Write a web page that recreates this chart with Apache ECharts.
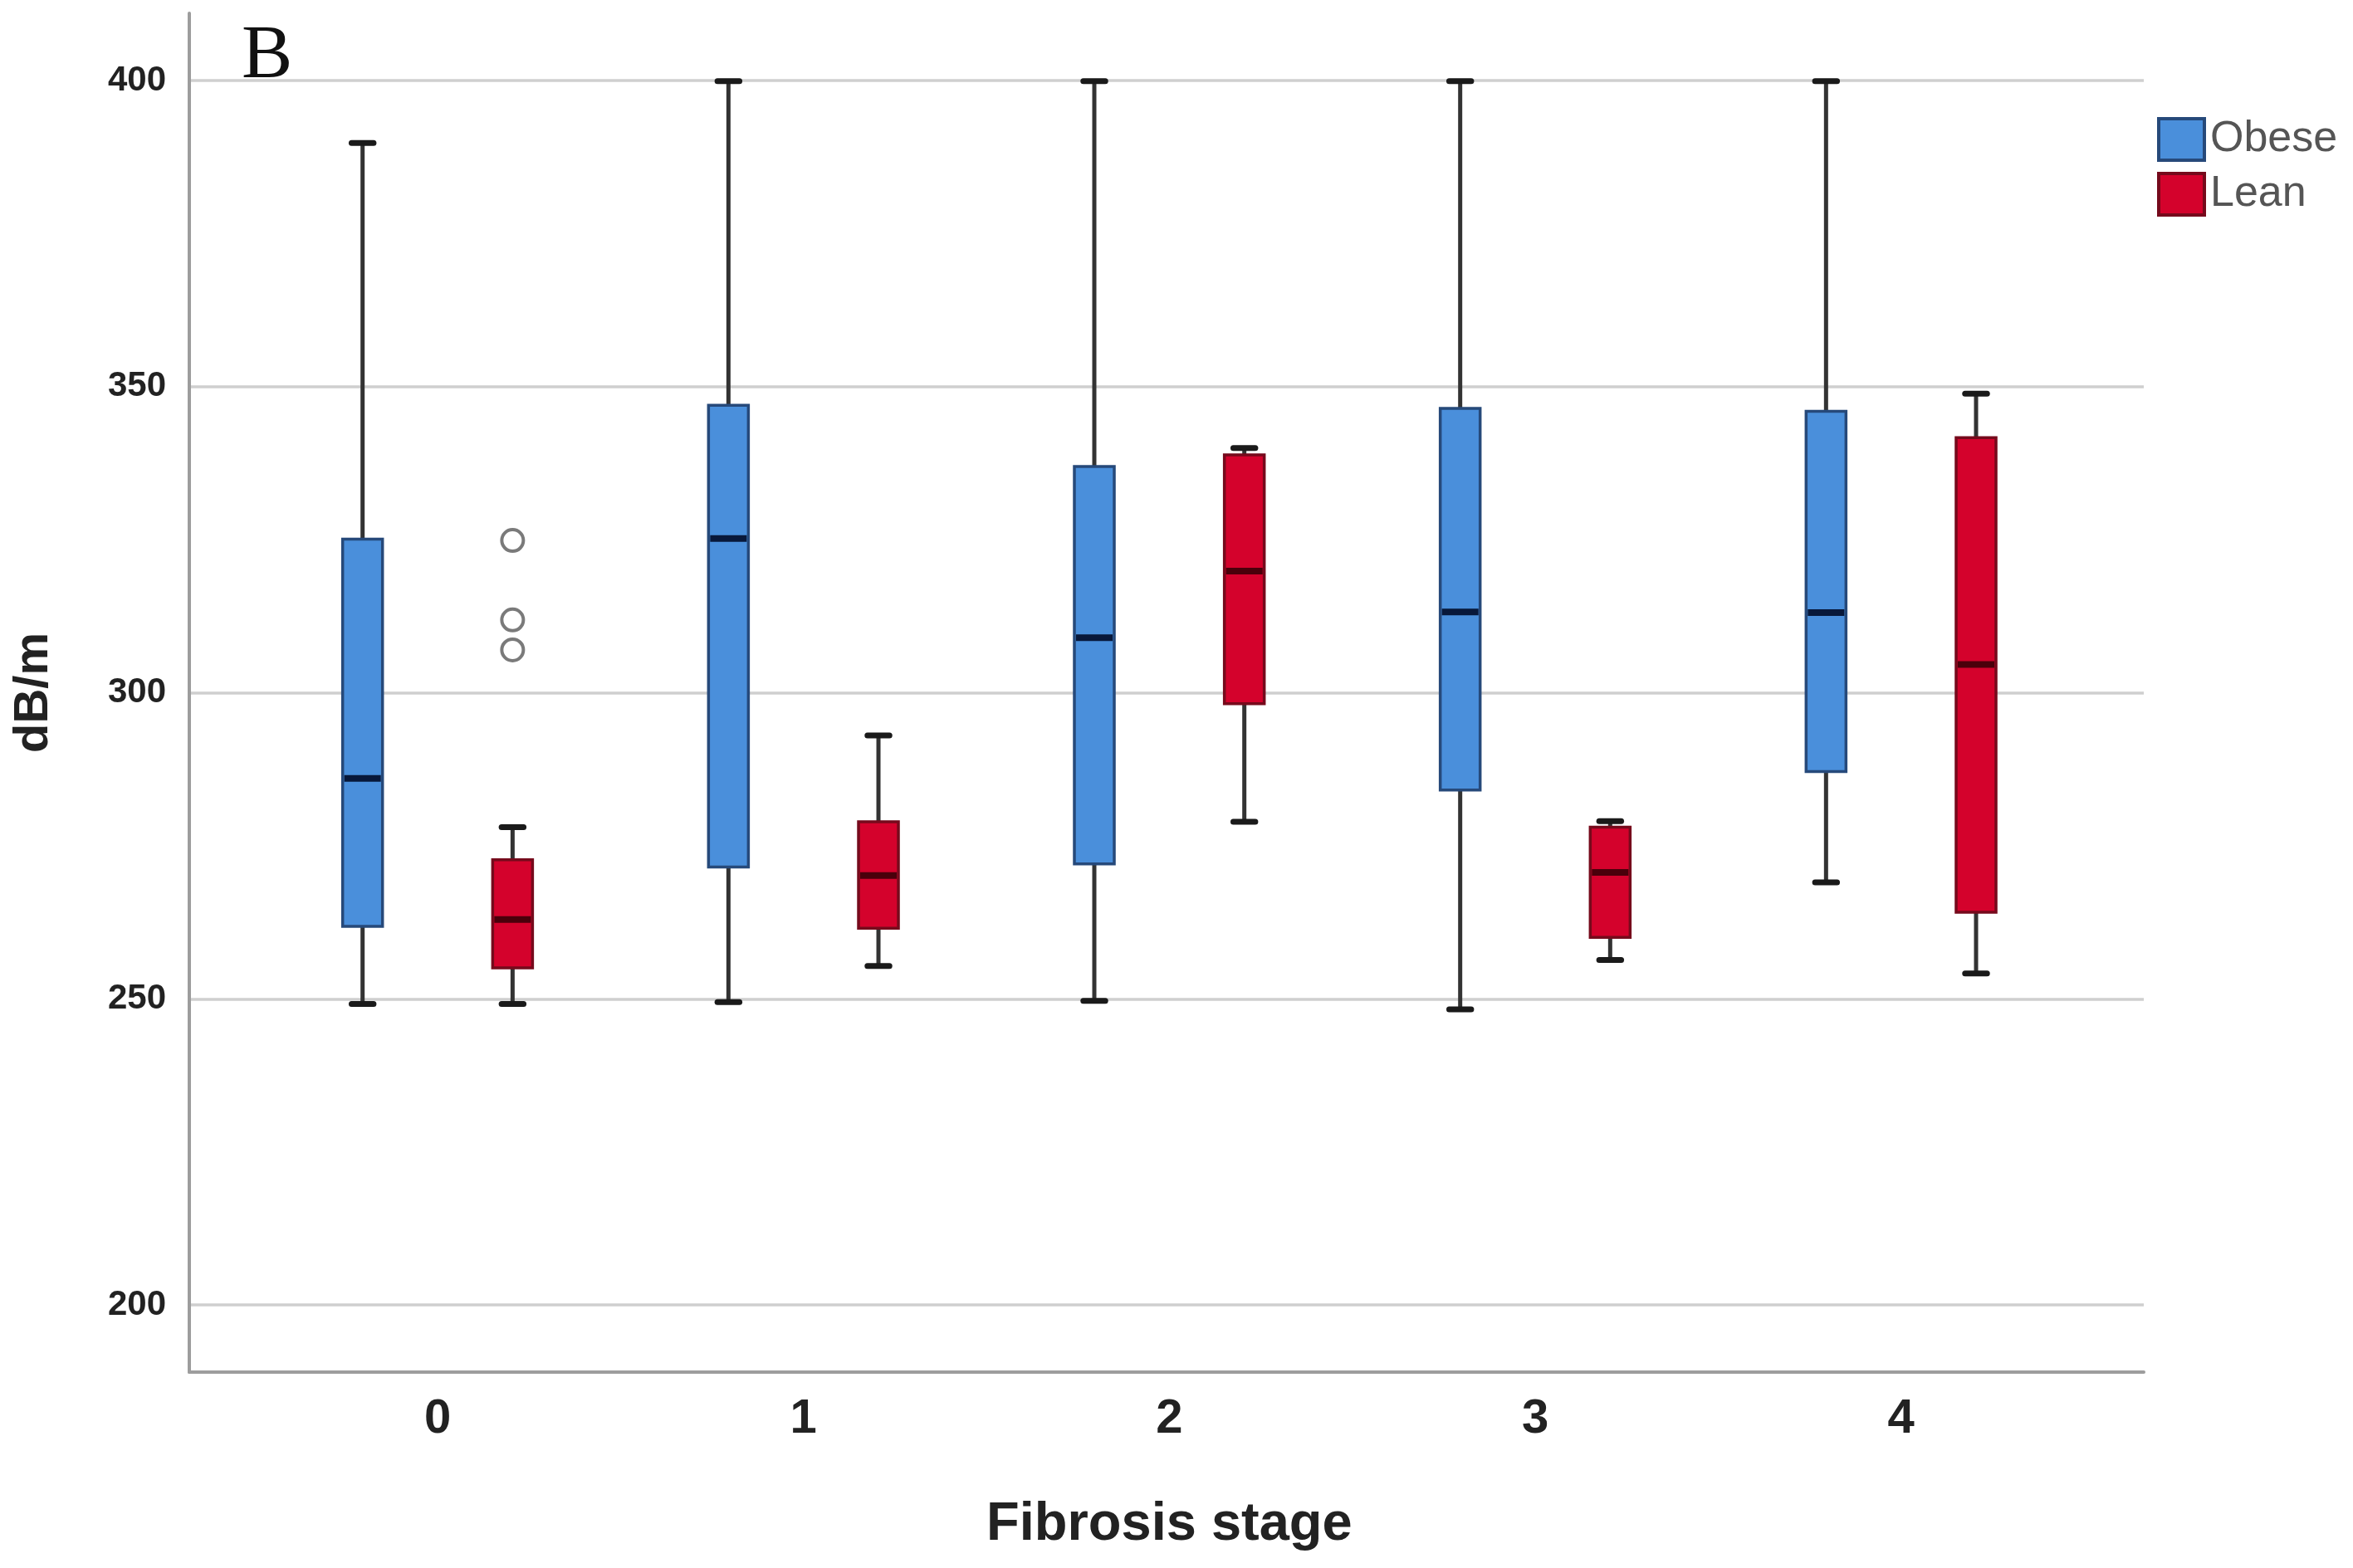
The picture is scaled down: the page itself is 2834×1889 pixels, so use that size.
<!DOCTYPE html>
<html>
<head>
<meta charset="utf-8">
<script src="https://cdn.jsdelivr.net/npm/echarts@6/dist/echarts.min.js"></script>
<style>
  html, body { margin: 0; padding: 0; background: #ffffff; }
  #chart { width: 2834px; height: 1889px; }
</style>
</head>
<body>
<div id="chart"></div>
<script>
// ---- Data ----
const CATEGORIES = ['0', '1', '2', '3', '4'];
const SERIES_NAMES = ['Obese', 'Lean'];
// each row: [min, Q1, median, Q3, max]
const OBESE = [
  [249.1, 261.8, 286.0, 325.1, 389.9],
  [249.4, 271.5, 325.2, 347.0, 400.0],
  [249.6, 272.0, 309.0, 337.0, 400.0],
  [248.2, 284.1, 313.2, 346.5, 400.0],
  [269.0, 287.1, 313.1, 346.0, 400.0]
];
const LEAN = [
  [249.1, 255.0, 262.9, 272.7, 278.0],
  [255.3, 261.5, 270.1, 278.9, 293.0],
  [278.9, 298.2, 319.9, 338.9, 340.0],
  [256.3, 260.0, 270.6, 278.0, 279.0],
  [254.1, 264.1, 304.6, 341.7, 348.9]
];
// outliers: [category index, value]
const LEAN_OUTLIERS = [[0, 324.9], [0, 311.9], [0, 307.0]];
const Y_TICKS_MIN = 200;
const Y_TICKS_MAX = 400;
const Y_TICK_STEP = 50;
const Y_AXIS_MIN = 188.9;
const Y_AXIS_MAX = 411.1;

// ---- Styles ----
const BOX_FRAC = 0.109;
const CAP_FRAC = 0.06;
const OFFSET_FRAC = 0.205;
const STYLE = {
  Obese: { fill: '#4a8fdb', border: '#26497a', median: '#08183a' },
  Lean: { fill: '#d4022c', border: '#760a1c', median: '#4a000b' }
};
const WHISKER = '#333333';
const CAP = '#1a1a1a';

function makeBoxRenderer(offsetFrac, st) {
  return function (params, api) {
    const cat = api.value(0);
    const band = api.size([1, 0])[0];
    const cx = api.coord([cat, api.value(3)])[0] + offsetFrac * band;
    const y = function (i) { return api.coord([cat, api.value(i)])[1]; };
    const yMin = y(1), yQ1 = y(2), yMed = y(3), yQ3 = y(4), yMax = y(5);
    const w = BOX_FRAC * band, cw = CAP_FRAC * band;
    return {
      type: 'group',
      children: [
        { type: 'line', shape: { x1: cx, y1: yMax, x2: cx, y2: yQ3 }, style: { stroke: WHISKER, lineWidth: 5 } },
        { type: 'line', shape: { x1: cx, y1: yQ1, x2: cx, y2: yMin }, style: { stroke: WHISKER, lineWidth: 5 } },
        { type: 'line', shape: { x1: cx - cw / 2, y1: yMax, x2: cx + cw / 2, y2: yMax }, style: { stroke: CAP, lineWidth: 7, lineCap: 'round' } },
        { type: 'line', shape: { x1: cx - cw / 2, y1: yMin, x2: cx + cw / 2, y2: yMin }, style: { stroke: CAP, lineWidth: 7, lineCap: 'round' } },
        { type: 'rect', shape: { x: cx - w / 2, y: yQ3, width: w, height: yQ1 - yQ3 }, style: { fill: st.fill, stroke: st.border, lineWidth: 3.5 } },
        { type: 'line', shape: { x1: cx - w / 2 + 2, y1: yMed, x2: cx + w / 2 - 2, y2: yMed }, style: { stroke: st.median, lineWidth: 8 } }
      ]
    };
  };
}

function outlierRenderer(offsetFrac) {
  return function (params, api) {
    const cat = api.value(0);
    const band = api.size([1, 0])[0];
    const p = api.coord([cat, api.value(1)]);
    return {
      type: 'circle',
      shape: { cx: p[0] + offsetFrac * band, cy: p[1], r: 13 },
      style: { fill: '#ffffff', stroke: '#7a7a7a', lineWidth: 4 }
    };
  };
}

const toRows = function (arr) { return arr.map(function (r, i) { return [i].concat(r); }); };

const chart = echarts.init(document.getElementById('chart'), null, { renderer: 'canvas' });

const option = {
  backgroundColor: '#ffffff',
  animation: false,
  title: {
    text: 'B',
    left: 286, top: 18,
    textStyle: { fontFamily: 'Liberation Serif', fontSize: 92, fontWeight: 'normal', color: '#111111' }
  },
  legend: {
    orient: 'vertical',
    left: 2593, top: 136,
    itemWidth: 55, itemHeight: 50, itemGap: 12,
    textStyle: { fontFamily: 'Liberation Sans', fontSize: 52, color: '#555555', padding: [0, 0, 0, 2] },
    data: [
      { name: 'Obese', icon: 'rect', itemStyle: { color: STYLE.Obese.fill, borderColor: STYLE.Obese.border, borderWidth: 4 } },
      { name: 'Lean', icon: 'rect', itemStyle: { color: STYLE.Lean.fill, borderColor: STYLE.Lean.border, borderWidth: 4 } }
    ]
  },
  grid: [
    // 0: frame (axis lines)
    { left: 228, right: 252, top: 16, bottom: 236, containLabel: false },
    // 1: gridlines + y labels
    { left: 228, right: 252, top: 97, bottom: 317, containLabel: false },
    // 2: data
    { left: 306.7, right: 324, top: 16, bottom: 236, containLabel: false }
  ],
  xAxis: [
    { gridIndex: 0, type: 'value', min: 0, max: 1,
      axisLine: { show: true, onZero: false, lineStyle: { color: '#9d9d9d', width: 4 } },
      axisTick: { show: false }, axisLabel: { show: false }, splitLine: { show: false } },
    { gridIndex: 1, type: 'value', min: 0, max: 1, show: false },
    { gridIndex: 2, type: 'category', data: CATEGORIES,
      axisLine: { show: false }, axisTick: { show: false },
      axisLabel: { margin: 28, fontFamily: 'Liberation Sans', fontSize: 58, fontWeight: 'bold', color: '#222222' },
      name: 'Fibrosis stage', nameLocation: 'middle', nameGap: 152,
      nameTextStyle: { fontFamily: 'Liberation Sans', fontSize: 65, fontWeight: 'bold', color: '#222222' },
      splitLine: { show: false } }
  ],
  yAxis: [
    { gridIndex: 0, type: 'value', min: 0, max: 1,
      axisLine: { show: true, onZero: false, lineStyle: { color: '#9d9d9d', width: 4 } },
      axisTick: { show: false }, axisLabel: { show: false }, splitLine: { show: false } },
    { gridIndex: 1, type: 'value', min: Y_TICKS_MIN, max: Y_TICKS_MAX, interval: Y_TICK_STEP,
      axisLine: { show: false }, axisTick: { show: false },
      axisLabel: { margin: 28, fontFamily: 'Liberation Sans', fontSize: 42, fontWeight: 'bold', color: '#222222' },
      splitLine: { show: true, lineStyle: { color: '#cfcfcf', width: 3.5 } },
      name: 'dB/m', nameLocation: 'middle', nameGap: 158, nameRotate: 90,
      nameTextStyle: { fontFamily: 'Liberation Sans', fontSize: 58, fontWeight: 'bold', color: '#222222' } },
    { gridIndex: 2, type: 'value', min: Y_AXIS_MIN, max: Y_AXIS_MAX, show: false }
  ],
  series: [
    { name: 'Obese', type: 'custom', xAxisIndex: 2, yAxisIndex: 2,
      itemStyle: { color: STYLE.Obese.fill, borderColor: STYLE.Obese.border },
      renderItem: makeBoxRenderer(-OFFSET_FRAC, STYLE.Obese),
      encode: { x: 0, y: [1, 2, 3, 4, 5] },
      data: toRows(OBESE), z: 5 },
    { name: 'Lean', type: 'custom', xAxisIndex: 2, yAxisIndex: 2,
      itemStyle: { color: STYLE.Lean.fill, borderColor: STYLE.Lean.border },
      renderItem: makeBoxRenderer(OFFSET_FRAC, STYLE.Lean),
      encode: { x: 0, y: [1, 2, 3, 4, 5] },
      data: toRows(LEAN), z: 5 },
    { name: 'Lean outliers', type: 'custom', xAxisIndex: 2, yAxisIndex: 2,
      renderItem: outlierRenderer(OFFSET_FRAC),
      encode: { x: 0, y: 1 },
      data: LEAN_OUTLIERS, z: 5 }
  ]
};
chart.setOption(option);
</script>
</body>
</html>
